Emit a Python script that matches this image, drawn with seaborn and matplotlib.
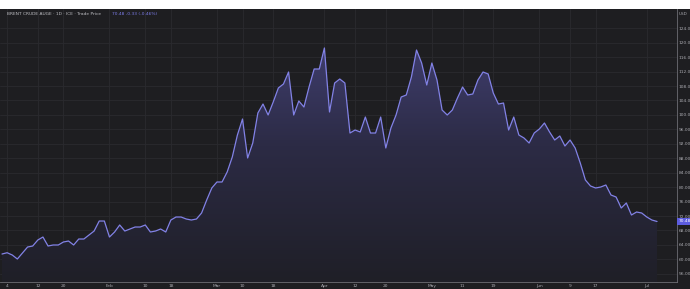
import numpy as np
import pandas as pd
import matplotlib
matplotlib.use("Agg")
import matplotlib.pyplot as plt
from matplotlib.colors import LinearSegmentedColormap
from matplotlib.patches import Rectangle
import seaborn as sns

# daily closes (one per bar)
prices = [61.47, 61.83, 61.20, 60.09, 61.75, 63.41, 63.69, 65.35, 66.18, 63.69,
          63.97, 63.97, 64.80, 65.07, 63.97, 65.63, 65.63, 66.74, 67.84, 70.61,
          70.61, 66.18, 67.57, 69.51, 67.84, 68.40, 68.95, 68.95, 69.51, 67.57,
          67.84, 68.40, 67.57, 70.89, 71.72, 71.72, 71.17, 70.89, 71.17, 72.83,
          76.43, 79.76, 81.42, 81.42, 84.19, 88.34, 94.44, 98.87, 88.07, 92.22,
          100.53, 103.02, 99.98, 103.58, 107.46, 108.57, 111.89, 99.98, 103.86, 102.19,
          107.73, 112.72, 112.72, 118.54, 100.81, 108.84, 109.95, 108.84, 94.99, 95.82,
          95.27, 99.42, 94.99, 94.99, 99.42, 90.84, 96.38, 99.98, 104.96, 105.52,
          110.50, 117.98, 114.38, 108.29, 114.38, 109.67, 101.36, 99.98, 101.36, 104.69,
          107.73, 105.52, 105.80, 109.67, 111.89, 111.34, 106.07, 103.02, 103.30, 95.82,
          99.42, 94.44, 93.61, 92.22, 94.99, 96.10, 97.76, 95.27, 93.05, 94.16,
          91.39, 93.05, 90.84, 86.68, 81.97, 80.31, 79.76, 80.03, 80.59, 77.82,
          77.26, 74.22, 75.60, 72.28, 73.11, 72.83, 71.72, 70.89, 70.48]

date_ticks = [1, 7, 12, 21, 28, 33, 42, 47, 53, 63, 69, 75, 84, 90, 96, 105, 111, 116, 126]
date_labels = ["4", "12", "20", "Feb", "10", "18", "Mar", "10", "18", "Apr",
               "12", "20", "May", "11", "19", "Jun", "9", "17", "Jul"]
price_ticks = [56, 60, 64, 68, 72, 76, 80, 84, 88, 92, 96, 100, 104, 108, 112, 116, 120, 124]
last_price = 70.48
title_main = "BRENT CRUDE AUGE · 1D · ICE · Trade Price"
title_quote = "70.48 -0.33 (-0.46%)"

bg = "#1e1e21"
grid = "#2a2a2f"
line_col = "#8282e6"
txt = "#a8a8ae"

df = pd.DataFrame({"bar": np.arange(len(prices)), "price": prices})

sns.set_theme(style="dark", rc={"axes.facecolor": bg, "figure.facecolor": "white"})
plt.rcParams['font.family'] = ['DejaVu Sans']

fig = plt.figure(figsize=(6.9, 2.89), dpi=100)
fig.patches.append(Rectangle((0, 0), 1, 280 / 289, transform=fig.transFigure,
                             facecolor=bg, edgecolor="none", zorder=-10))
ax = fig.add_axes([0, 7 / 289, 677 / 690, 273 / 289])
ax.set_facecolor(bg)

x0, x1 = -0.39, 131.9
ylo, yhi = 53.72, 129.34

# gradient area under the line
poly = ax.fill_between(df["bar"], df["price"], ylo, facecolor="none", edgecolor="none")
cmap = LinearSegmentedColormap.from_list("fade", ["#1f1f27", "#2c2b45", "#46447c"])
grad = np.linspace(1, 0, 256).reshape(-1, 1)
im = ax.imshow(grad, cmap=cmap, aspect="auto", extent=[x0, x1, ylo, yhi],
               origin="upper", zorder=1)
im.set_clip_path(poly.get_paths()[0], transform=ax.transData)

sns.lineplot(data=df, x="bar", y="price", color=line_col, lw=0.9, ax=ax, zorder=3)

ax.set_xlim(x0, x1)
ax.set_ylim(ylo, yhi)
ax.set_xlabel("")
ax.set_ylabel("")

ax.set_xticks(date_ticks)
ax.set_xticklabels(date_labels)
ax.set_yticks(price_ticks)
ax.set_yticklabels([f"{v:.2f}" for v in price_ticks])
ax.yaxis.tick_right()
ax.tick_params(axis="both", length=0, labelsize=3.2, colors=txt)
ax.tick_params(axis="x", pad=1.2)
ax.tick_params(axis="y", pad=1.0)
ax.grid(True, color=grid, lw=0.6)

for s in ["top", "left"]:
    ax.spines[s].set_visible(False)
for s in ["bottom", "right"]:
    ax.spines[s].set_visible(True)
    ax.spines[s].set_color("#6e6e74")
    ax.spines[s].set_linewidth(0.6)

# current price badge on the right axis
ax.annotate(f"{last_price:.2f}", xy=(1.0, last_price), xycoords=("axes fraction", "data"),
            xytext=(1.2, 0), textcoords="offset points", va="center", ha="left",
            fontsize=3.2, color="white",
            bbox=dict(boxstyle="square,pad=0.35", facecolor="#5c5ce0", edgecolor="none"),
            annotation_clip=False)

fig.text(679 / 690, 1 - 14 / 289, "USD", fontsize=3.0, color=txt, va="center")
fig.text(7 / 690, 1 - 14 / 289, title_main, fontsize=3.2, color="#bdbdc2", va="center")
fig.text(112 / 690, 1 - 14 / 289, title_quote, fontsize=3.2, color="#7c7ce8", va="center")

fig.savefig("out.png", dpi=100)
